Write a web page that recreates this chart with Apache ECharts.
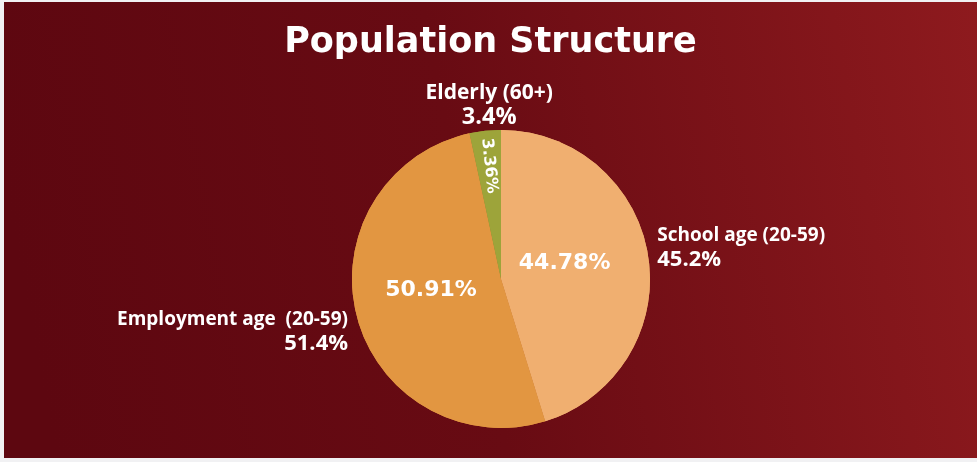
<!DOCTYPE html>
<html>
<head>
<meta charset="utf-8">
<script src="https://cdn.jsdelivr.net/npm/echarts@6/dist/echarts.min.js"></script>
<style>
  html, body { margin: 0; padding: 0; background: #f1f1f3; }
  #chart { position: absolute; left: 4px; top: 2px; width: 973px; height: 456px; }
</style>
</head>
<body>
<div id="chart"></div>
<script>
const titleText = 'Population Structure';
const categories = ['School age (20-59)', 'Employment age  (20-59)', 'Elderly (60+)'];
const values = [44.78, 50.91, 3.36];
const colors = ['#F0AF70', '#E29641', '#9DA43A'];

const data = categories.map((name, i) => ({
  name: name,
  value: values[i],
  itemStyle: { color: colors[i] }
}));

const chart = echarts.init(document.getElementById('chart'));
const center = [497, 277];
const radius = 149;

function richStyle(nSize, pSize, lh) {
  return {
    n: { color: '#ffffff', fontFamily: 'Open Sans', fontWeight: 700, fontSize: nSize, lineHeight: lh },
    p: { color: '#ffffff', fontFamily: 'Open Sans', fontWeight: 700, fontSize: pSize, lineHeight: lh }
  };
}

chart.setOption({
  backgroundColor: {
    type: 'linear', x: 0, y: 0.4, x2: 1, y2: 0,
    colorStops: [
      { offset: 0, color: '#5D0710' },
      { offset: 0.45, color: '#680B13' },
      { offset: 1, color: '#8E1A1E' }
    ]
  },
  title: {
    text: titleText,
    left: 'center',
    top: 18,
    textStyle: { color: '#ffffff', fontFamily: 'DejaVu Sans', fontWeight: 'bold', fontSize: 35 }
  },
  series: [
    {
      type: 'pie',
      center: center,
      radius: radius,
      startAngle: 90,
      clockwise: true,
      percentPrecision: 1,
      silent: true,
      animation: false,
      data: data.map((d, i) => Object.assign({}, d, i === 2 ? { label: { rich: richStyle(21, 23.5, 24) } } : {})),
      label: {
        show: true,
        position: 'outside',
        distanceToLabelLine: 5,
        formatter: '{n|{b}}\n{p|{d}%}',
        rich: richStyle(19, 22, 24)
      },
      labelLine: { show: false, length: 4, length2: 0 },
      labelLayout: function (p) {
        if (p.dataIndex === 2) {
          return { x: p.rect.x + p.rect.width / 2 + 4, y: p.rect.y - 1, align: 'center', verticalAlign: 'bottom' };
        }
        if (p.dataIndex === 0) return { dy: -8 };
        if (p.dataIndex === 1) return { dy: 14 };
        return {};
      }
    },
    {
      type: 'pie',
      center: center,
      radius: radius,
      startAngle: 90,
      clockwise: true,
      silent: true,
      animation: false,
      data: data.map((d, i) => Object.assign({}, d, i === 2 ? { label: { rotate: -84, fontSize: 16 } } : {})),
      label: {
        show: true,
        position: 'inside',
        formatter: function (p) { return p.value + '%'; },
        color: '#ffffff',
        fontFamily: 'DejaVu Sans',
        fontWeight: 'bold',
        fontSize: 22
      },
      labelLine: { show: false },
      labelLayout: function (p) {
        if (p.dataIndex === 2) {
          return { x: p.rect.x + p.rect.width / 2 + 4, y: p.rect.y + 36, align: 'center', verticalAlign: 'middle' };
        }
        if (p.dataIndex === 0) return { dx: -13, dy: -4 };
        if (p.dataIndex === 1) return { dx: 5, dy: -8 };
        return {};
      }
    }
  ]
});
</script>
</body>
</html>
